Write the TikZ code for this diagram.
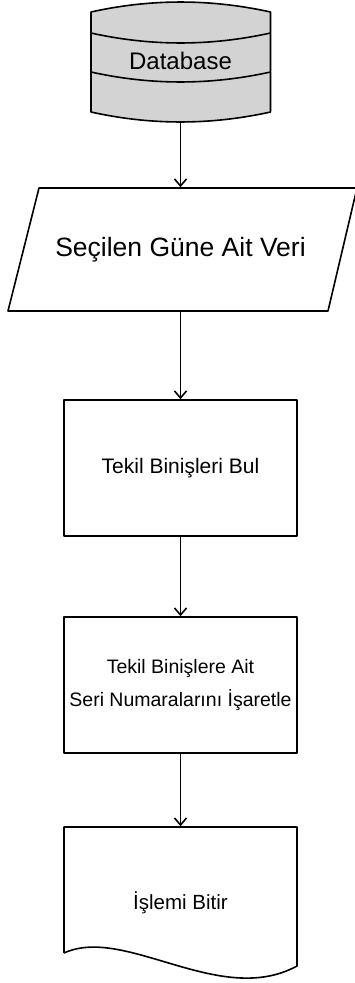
\documentclass[tikz,border=0pt]{standalone}
\usepackage{fontspec}
\setmainfont{Liberation Sans}
\usetikzlibrary{arrows.meta}
\definecolor{dbgrey}{RGB}{211,211,211}
\begin{document}
\begin{tikzpicture}[x=1pt, y=-1pt, line width=1.6pt, line join=round,
  lbl/.style={align=center, inner sep=0pt},
  procbox/.style={lbl, draw, minimum width=233pt, minimum height=136pt},
  flow/.style={-{Straight Barb[length=7pt,width=12pt]}}]
\useasboundingbox (0,0) rectangle (354,983);

% database cylinder with two bands
\filldraw[fill=dbgrey] (91,12) .. controls (150.7,-1.3) and (210.3,-1.3) .. (270.5,12)
  -- (270.5,112) .. controls (210.3,125.3) and (150.7,125.3) .. (91,112) -- cycle;
\draw (91,33) .. controls (150.7,46.3) and (210.3,46.3) .. (270.5,33);
\draw (91,72) .. controls (150.7,85.3) and (210.3,85.3) .. (270.5,72);
\node[lbl, font=\fontsize{24}{29}\selectfont, minimum height=120pt] (db) at (180.5,61) {Database};

% input/output parallelogram
\draw (39,188) -- (357,188) -- (328,311) -- (8,311) -- cycle;
\node[lbl, font=\fontsize{26.5}{32}\selectfont, minimum width=300pt, minimum height=123pt] (veri) at (180.5,249.5) {Seçilen Güne Ait Veri};

% process steps
\node[procbox, font=\fontsize{21}{26}\selectfont] (bul) at (180.5,468) {Tekil Binişleri Bul};
\node[procbox, font=\fontsize{19.5}{33}\selectfont] (isaret) at (180.5,685) {Tekil Binişlere Ait\\Seri Numaralarını İşaretle};

% terminal document shape
\draw (64,953) -- (64,827) -- (297,827) -- (297,966)
  .. controls (220,1008) and (125,925) .. (64,953);
\node[lbl, font=\fontsize{20.5}{25}\selectfont, minimum height=152pt] (bitir) at (180.5,903) {İşlemi Bitir};

% connectors
\draw[flow] (db.south) -- (veri.north);
\draw[flow] (veri.south) -- (bul.north);
\draw[flow] (bul.south) -- (isaret.north);
\draw[flow] (isaret.south) -- (bitir.north);
\end{tikzpicture}
\end{document}
